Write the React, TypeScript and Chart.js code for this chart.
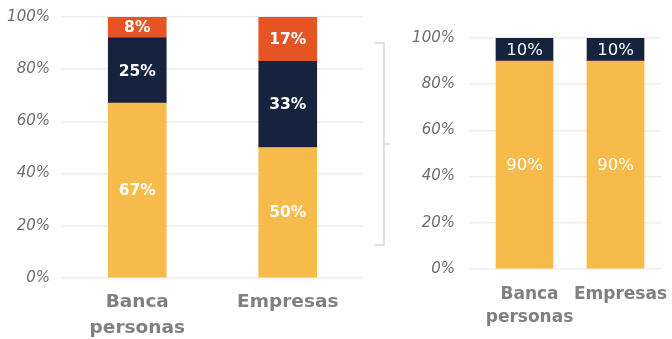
import React, { useEffect, useRef } from 'react';
import { Chart, registerables } from 'chart.js';

Chart.register(...registerables);

// ---- data ----
const leftCategories: (string | string[])[] = [['Banca', 'personas'], 'Empresas'];
const leftYellow = [67, 50];
const leftNavy = [25, 33];
const leftOrange = [8, 17];

const rightCategories: (string | string[])[] = [['Banca', 'personas'], 'Empresas'];
const rightYellow = [90, 90];
const rightNavy = [10, 10];

const yMin = 0;
const yMax = 100;
const yStep = 20;
const bracketRange = [12.6, 90]; // left y-scale values spanned by the bracket

// ---- styles ----
const YELLOW = '#F6BB4A';
const NAVY = '#15233F';
const ORANGE = '#E65425';
const GRID = '#EDEDED';
const TICK_GRAY = '#6E6E6E';
const LABEL_GRAY = '#808080';
const FONT = '"DejaVu Sans", sans-serif';

const valueLabels = {
  id: 'valueLabels',
  afterDatasetsDraw(chart: any, _args: any, opts: any) {
    const ctx = chart.ctx;
    ctx.save();
    ctx.fillStyle = '#FFFFFF';
    ctx.textAlign = 'center';
    ctx.textBaseline = 'middle';
    ctx.font = opts.font;
    chart.data.datasets.forEach((ds: any, di: number) => {
      const meta = chart.getDatasetMeta(di);
      meta.data.forEach((el: any, i: number) => {
        const v = ds.data[i];
        const p = el.getCenterPoint();
        ctx.fillText(v + '%', p.x, p.y + 1);
      });
    });
    ctx.restore();
  },
};

const bracket = {
  id: 'bracket',
  afterDraw(chart: any, _args: any, opts: any) {
    if (!opts || !opts.enabled) return;
    const ctx = chart.ctx;
    const y = chart.scales.y;
    const x0 = chart.chartArea.right;
    const top = y.getPixelForValue(bracketRange[1]);
    const bot = y.getPixelForValue(bracketRange[0]);
    const mid = (top + bot) / 2;
    ctx.save();
    ctx.strokeStyle = '#D9D9D9';
    ctx.lineWidth = 1.5;
    ctx.beginPath();
    ctx.moveTo(x0 + 12, top);
    ctx.lineTo(x0 + 21, top);
    ctx.lineTo(x0 + 21, bot);
    ctx.lineTo(x0 + 12, bot);
    ctx.moveTo(x0 + 21, mid);
    ctx.lineTo(x0 + 27, mid);
    ctx.stroke();
    ctx.restore();
  },
};

function makeConfig(p: {
  labels: (string | string[])[];
  datasets: any[];
  yWidth: number;
  xHeight: number;
  padTop: number;
  padRight: number;
  barThickness: number;
  yTickPad: number;
  yTickLen: number;
  xTickPad: number;
  xLabelOffset: number;
  xFontSize: number;
  xLineHeight: number;
  valueFont: string;
  bracketOn: boolean;
}) {
  return {
    type: 'bar' as const,
    data: {
      labels: p.labels,
      datasets: p.datasets.map((d) => ({ ...d, barThickness: p.barThickness, borderWidth: 0 })),
    },
    options: {
      responsive: false,
      animation: false as const,
      layout: { padding: { top: p.padTop, right: p.padRight, left: 0, bottom: 0 } },
      plugins: {
        legend: { display: false },
        tooltip: { enabled: false },
        valueLabels: { font: p.valueFont },
        bracket: { enabled: p.bracketOn },
      },
      scales: {
        x: {
          stacked: true,
          grid: { display: false, drawTicks: false },
          border: { display: false },
          ticks: {
            color: LABEL_GRAY,
            padding: p.xTickPad,
            labelOffset: p.xLabelOffset,
            maxRotation: 0,
            autoSkip: false,
            font: { family: FONT, size: p.xFontSize, weight: 'bold' as const, lineHeight: p.xLineHeight },
          },
          afterFit(scale: any) {
            scale.height = p.xHeight;
            scale.paddingLeft = 0;
            scale.paddingRight = 0;
          },
        },
        y: {
          stacked: true,
          min: yMin,
          max: yMax,
          grid: {
            color: GRID,
            lineWidth: 1.5,
            drawTicks: p.yTickLen > 0,
            tickLength: p.yTickLen,
          },
          border: { display: false },
          ticks: {
            stepSize: yStep,
            color: TICK_GRAY,
            padding: p.yTickPad,
            font: { family: FONT, size: 15, style: 'italic' as const, weight: 'normal' as const },
            callback: (v: any) => v + '%',
          },
          afterFit(scale: any) {
            scale.width = p.yWidth;
            scale.paddingTop = 0;
            scale.paddingBottom = 0;
          },
        },
      },
    },
    plugins: [valueLabels, bracket],
  };
}

export default function App() {
  const leftRef = useRef<HTMLCanvasElement>(null);
  const rightRef = useRef<HTMLCanvasElement>(null);

  useEffect(() => {
    const left = new Chart(
      leftRef.current as HTMLCanvasElement,
      makeConfig({
        labels: leftCategories,
        datasets: [
          { label: 'a', data: leftYellow, backgroundColor: YELLOW },
          { label: 'b', data: leftNavy, backgroundColor: NAVY },
          { label: 'c', data: leftOrange, backgroundColor: ORANGE },
        ],
        yWidth: 62,
        xHeight: 61,
        padTop: 17,
        padRight: 37,
        barThickness: 58,
        yTickPad: 12,
        yTickLen: 0,
        xTickPad: 11,
        xLabelOffset: 0,
        xFontSize: 18.5,
        xLineHeight: 1.4,
        valueFont: `bold 15.5px ${FONT}`,
        bracketOn: true,
      }) as any
    );
    const right = new Chart(
      rightRef.current as HTMLCanvasElement,
      makeConfig({
        labels: rightCategories,
        datasets: [
          { label: 'a', data: rightYellow, backgroundColor: YELLOW },
          { label: 'b', data: rightNavy, backgroundColor: NAVY },
        ],
        yWidth: 79,
        xHeight: 70,
        padTop: 38,
        padRight: 11,
        barThickness: 57,
        yTickPad: 14,
        yTickLen: 10,
        xTickPad: 14,
        xLabelOffset: 5,
        xFontSize: 17,
        xLineHeight: 1.35,
        valueFont: `16.5px ${FONT}`,
        bracketOn: false,
      }) as any
    );
    return () => {
      left.destroy();
      right.destroy();
    };
  }, []);

  return (
    <div style={{ position: 'absolute', left: 0, top: 0, width: 672, height: 339, background: '#fff' }}>
      <canvas ref={leftRef} width={400} height={339} style={{ position: 'absolute', left: 0, top: 0 }} />
      <canvas ref={rightRef} width={272} height={339} style={{ position: 'absolute', left: 400, top: 0 }} />
    </div>
  );
}
